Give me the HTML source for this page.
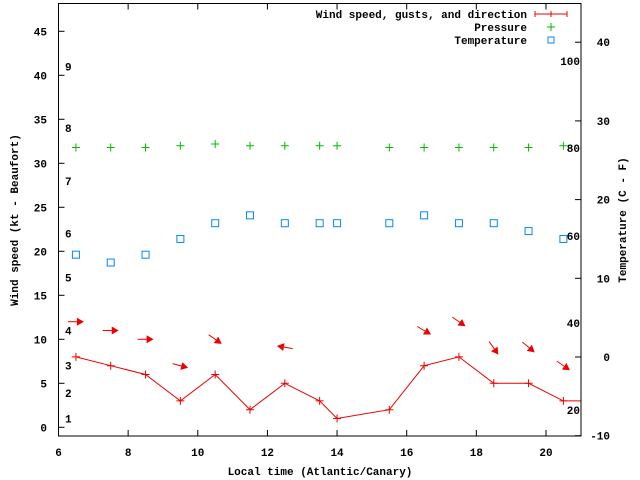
<!DOCTYPE html>
<html><head><meta charset="utf-8"><style>
body{margin:0;background:#fff}
svg{display:block}
text{font-family:"Liberation Mono",monospace;font-size:11px;font-weight:bold;fill:#000}
</style></head><body>
<svg id="chart" width="640" height="480" viewBox="0 0 640 480" xmlns="http://www.w3.org/2000/svg">
<rect x="0" y="0" width="640" height="480" fill="#fff"/>
<g id="marks"></g>
<rect x="58.5" y="3.5" width="522.5" height="432.5" fill="none" stroke="#000" stroke-width="1"/>
<text transform="translate(18,220) rotate(-90)" text-anchor="middle">Wind speed (kt - Beaufort)</text>
<text transform="translate(626,220) rotate(-90)" text-anchor="middle">Temperature (C - F)</text>
<text x="320" y="475" text-anchor="middle">Local time (Atlantic/Canary)</text>
<g>
<text x="527" y="18" text-anchor="end">Wind speed, gusts, and direction</text>
<path d="M535,14H567M535,11V17M567,11V17M551,11V17" stroke="#e00" fill="none"/>
<text x="527" y="31" text-anchor="end">Pressure</text>
<path d="M547,27H555M551,23V31" stroke="#0b0" fill="none"/>
<text x="527" y="44" text-anchor="end">Temperature</text>
<rect x="548" y="37" width="6" height="6" fill="none" stroke="#08f"/>
</g>
</svg>
<script>
const times=[6.5,7.5,8.5,9.5,10.5,11.5,12.5,13.5,14,15.5,16.5,17.5,18.5,19.5,20.5];
const windSpeed=[8,7,6,3,6,2,5,3,1,2,7,8,5,5,3];
const pressure=[31.8,31.8,31.8,32,32.2,32,32,32,32,31.8,31.8,31.8,31.8,31.8,32];
const tempC=[13,12,13,15,17,18,17,17,17,17,18,17,17,16,15];
const arrowTimes=[6.5,7.5,8.5,9.5,10.5,12.5,16.5,17.5,18.5,19.5,20.5];
const arrowLevel=[12,11,10,7,10,9.1,11,12,9,9.1,7];
const arrowDir=[0,0,0,15,35,190,30,35,55,40,35];
const xTicks=[6,8,10,12,14,16,18,20];
const yTicks=[0,5,10,15,20,25,30,35,40,45];
const y2Ticks=[-10,0,10,20,30,40];
const beaufort=[[1,1],[2,3.9],[3,7],[4,11],[5,17],[6,22],[7,28],[8,34],[9,41]];
const fahrenheit=[[20,410],[40,323],[60,236],[80,148],[100,61]];
const X=t=>58.5+(t-6)*34.82;
const Y=v=>427.3-v*8.8;
const Y2=c=>357-c*7.87;
const NS='http://www.w3.org/2000/svg';
const g=document.getElementById('marks');
function mk(tag,attrs,parent){const e=document.createElementNS(NS,tag);for(const k in attrs)e.setAttribute(k,attrs[k]);(parent||g).appendChild(e);return e;}
xTicks.forEach(t=>{
 const l=mk('path',{d:`M${X(t)},436V430M${X(t)},3.5V9.5`,stroke:'#000'});
 
 
 const tx=mk('text',{x:X(t),y:456,'text-anchor':'middle'});tx.textContent=t;
 
 
});
yTicks.forEach(v=>{
 const l=mk('path',{d:`M58.5,${Y(v)}H64.5`,stroke:'#000'});
 
 
 const tx=mk('text',{x:47,y:Y(v)+4,'text-anchor':'end'});tx.textContent=v;
 
 
});
y2Ticks.forEach(v=>{
 const l=mk('path',{d:`M581,${Y2(v)}H575`,stroke:'#000'});
 
 
 const tx=mk('text',{x:610,y:Y2(v)+4,'text-anchor':'end'});tx.textContent=v;
 
 
});
beaufort.forEach(b=>{
 const tx=mk('text',{x:65,y:Y(b[1])+4});tx.textContent=b[0];
 
 
});
fahrenheit.forEach(f=>{
 const tx=mk('text',{x:580,y:f[1]+4,'text-anchor':'end'});tx.textContent=f[0];
 
 
});
let d=times.map((t,i)=>(i?'L':'M')+X(t)+','+Y(windSpeed[i])).join('')+'L581,'+Y(windSpeed[windSpeed.length-1]);
const line=mk('path',{d,stroke:'#e00',fill:'none'});


times.forEach((t,i)=>{
 const x=X(t),y=Y(windSpeed[i]);
 const p=mk('path',{d:`M${x-4},${y}H${x+4}M${x},${y-4}V${y+4}`,stroke:'#e00'});
 
 
 const yp=Y(pressure[i]);
 const q=mk('path',{d:`M${x-4},${yp}H${x+4}M${x},${yp-4}V${yp+4}`,stroke:'#0b0'});
 
 
 const r=mk('rect',{x:x-3.5,y:Y2(tempC[i])-3.5,width:7,height:7,fill:'none',stroke:'#08f'});
 
 
});
arrowTimes.forEach((t,i)=>{
 const cx=X(t),cy=Y(arrowLevel[i]),a=arrowDir[i]*Math.PI/180;
 const dx=Math.cos(a),dy=Math.sin(a);
 const x1=cx-8*dx,y1=cy-8*dy,x2=cx+8*dx,y2=cy+8*dy;
 const bx=x2-7*dx,by=y2-7*dy;
 const ar=mk('g',{});
 
 
 mk('path',{d:`M${x1},${y1}L${bx},${by}`,stroke:'#e00'},ar);
 mk('path',{d:`M${x2},${y2}L${bx-4*dy},${by+4*dx}L${bx+4*dy},${by-4*dx}Z`,fill:'#e00'},ar);
});
</script>
</body></html>
